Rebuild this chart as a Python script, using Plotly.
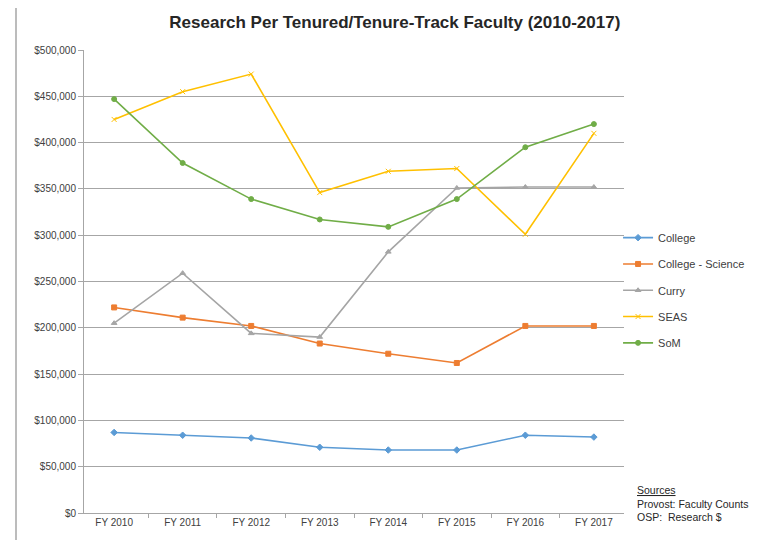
import plotly.graph_objects as go

years = ["FY 2010", "FY 2011", "FY 2012", "FY 2013", "FY 2014", "FY 2015", "FY 2016", "FY 2017"]
college = [87000, 84000, 81000, 71000, 68000, 68000, 84000, 82000]
college_science = [222000, 211000, 202000, 183000, 172000, 162000, 202000, 202000]
curry = [205000, 259000, 194000, 190000, 282000, 351000, 352000, 352000]
seas = [425000, 455000, 474000, 346000, 369000, 372000, 301000, 410000]
som = [447000, 378000, 339000, 317000, 309000, 339000, 395000, 420000]

series = [
    ("College", college, "#5b9bd5", "diamond", 5),
    ("College - Science", college_science, "#ed7d31", "square", 5),
    ("Curry", curry, "#a5a5a5", "triangle-up", 5),
    ("SEAS", seas, "#ffc000", "x-thin-open", 5),
    ("SoM", som, "#70ad47", "circle", 5),
]

fig = go.Figure()
for i, (name, vals, color, sym, sz) in enumerate(series):
    fig.add_trace(go.Scatter(
        x=years, y=vals, name=name, mode="lines+markers",
        line=dict(color=color, width=1.6),
        marker=dict(color=color, symbol=sym, size=sz, line=dict(color=color, width=1)),
        legendgroup=f"g{i}",
    ))

fig.update_layout(
    width=757, height=540,
    margin=dict(l=76, r=141, t=42, b=35),
    paper_bgcolor="white", plot_bgcolor="white",
    font=dict(family="Liberation Sans, Arial, sans-serif", color="#404040"),
    title=dict(text="<b>Research Per Tenured/Tenure-Track Faculty (2010-2017)</b>",
               x=0.511, xanchor="center", y=1 - 14 / 540, yanchor="middle",
               font=dict(size=17, color="#262626")),
    showlegend=True,
    legend=dict(x=0.989, xanchor="left", y=0.626, yanchor="top",
                font=dict(size=11, color="#404040"), tracegroupgap=7.3,
                bgcolor="rgba(0,0,0,0)", itemwidth=30),
    xaxis=dict(type="category", showgrid=False, showline=True, linecolor="#a6a6a6",
               ticks="outside", tickson="boundaries", ticklen=4, tickcolor="#a6a6a6",
               tickfont=dict(size=10, color="#404040"), fixedrange=True),
    yaxis=dict(range=[0, 500000], dtick=50000, tickformat="$,.0f", showgrid=True,
               gridcolor="#a6a6a6", gridwidth=1, showline=True, linecolor="#a6a6a6",
               ticks="outside", ticklen=5, tickcolor="#a6a6a6",
               tickfont=dict(size=10, color="#404040"), zeroline=False),
)

fig.add_annotation(
    xref="paper", yref="paper", x=1.02, y=-0.026, xanchor="left", yanchor="bottom",
    text="<u>Sources</u><br>Provost: Faculty Counts<br>OSP:  Research $",
    showarrow=False, align="left", font=dict(size=10.5, color="#262626"),
)

# outer chart frame (left edge)
fig.add_shape(type="line", xref="paper", yref="paper",
              x0=-68 / 540, x1=-68 / 540, y0=-0.1, y1=1.2,
              line=dict(color="#a6a6a6", width=1.5), layer="below")

fig.write_html("out.html")
